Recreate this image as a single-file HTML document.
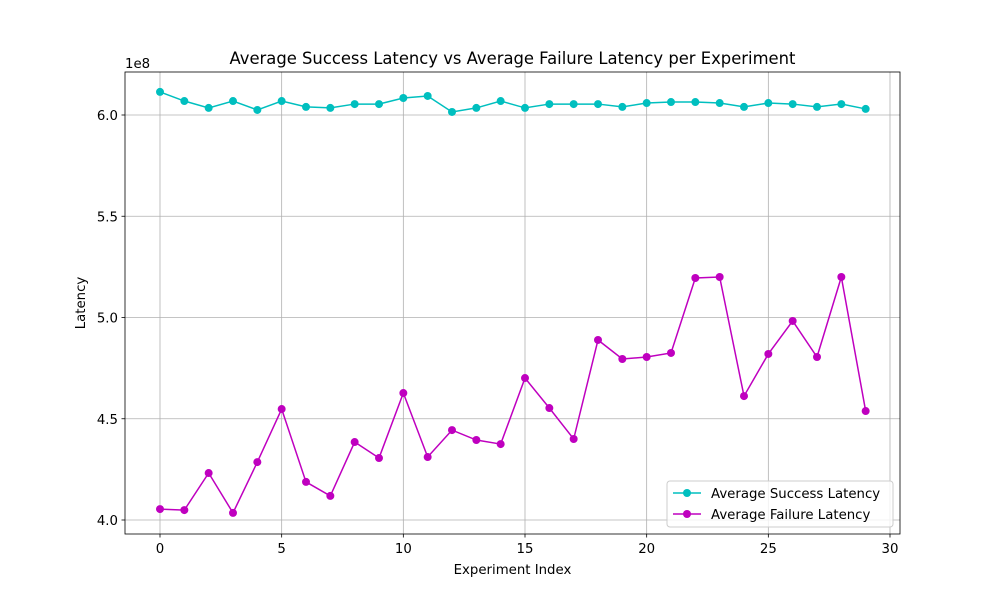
<!DOCTYPE html>
<html><head><meta charset="utf-8"><style>
body{margin:0;background:#fff;}
svg text{font-family:"DejaVu Sans","Liberation Sans",sans-serif;}
</style></head><body>
<svg id="chart" width="1000" height="600" xmlns="http://www.w3.org/2000/svg">
<rect width="1000" height="600" fill="#fff"/>
<g id="grid"></g><g id="axes"></g><g id="series"></g><g id="legend"></g>
</svg>
<script>
const xTicks=[0,5,10,15,20,25,30];
const yTicks=[4.0,4.5,5.0,5.5,6.0];
const yTickLabels=["4.0","4.5","5.0","5.5","6.0"];
const successLatency=[6.114,6.069,6.035,6.069,6.025,6.069,6.04,6.035,6.054,6.054,6.084,6.094,6.015,6.035,6.069,6.035,6.054,6.054,6.054,6.04,6.059,6.064,6.064,6.059,6.04,6.059,6.054,6.04,6.054,6.03];
const failureLatency=[4.054,4.049,4.232,4.035,4.286,4.548,4.188,4.119,4.385,4.306,4.627,4.311,4.444,4.395,4.375,4.701,4.553,4.4,4.889,4.795,4.805,4.825,5.195,5.2,4.612,4.82,4.983,4.805,5.2,4.538];
const NS="http://www.w3.org/2000/svg";
const L=125,R=900,T=72,B=534;
const xs=v=>160+v*(890-160)/30;
const ys=v=>520-(v-4.0)*202.5;
function mk(tag,attrs,parent,text){const e=document.createElementNS(NS,tag);for(const k in attrs)e.setAttribute(k,attrs[k]);if(text!==undefined)e.textContent=text;parent.appendChild(e);return e;}
const grid=document.getElementById('grid'),axes=document.getElementById('axes'),ser=document.getElementById('series'),leg=document.getElementById('legend');
xTicks.forEach(t=>{const x=xs(t);
 const g=mk('line',{x1:x,x2:x,y1:T,y2:B,stroke:'#b0b0b0','stroke-width':0.8},grid);
 
 mk('line',{x1:x,x2:x,y1:B,y2:B+3.5,stroke:'#000','stroke-width':0.8},axes);
 const tl=mk('text',{x:x,y:B+19,'text-anchor':'middle','font-size':13.3},axes,String(t));
 });
yTicks.forEach((t,i)=>{const y=ys(t);
 const g=mk('line',{x1:L,x2:R,y1:y,y2:y,stroke:'#b0b0b0','stroke-width':0.8},grid);
 
 mk('line',{x1:L-3.5,x2:L,y1:y,y2:y,stroke:'#000','stroke-width':0.8},axes);
 const tl=mk('text',{x:L-7,y:y+5,'text-anchor':'end','font-size':13.3},axes,yTickLabels[i]);
 });
const fr=mk('rect',{x:L,y:T,width:R-L,height:B-T,fill:'none',stroke:'#000','stroke-width':0.8},axes);

const off=mk('text',{x:L,y:T-4,'font-size':13.3},axes,'1e8');

const ti=mk('text',{x:512.5,y:64,'text-anchor':'middle','font-size':16.4},axes,'Average Success Latency vs Average Failure Latency per Experiment');

const xt=mk('text',{x:512.5,y:574,'text-anchor':'middle','font-size':13.3},axes,'Experiment Index');

const yt=mk('text',{x:85,y:303,'text-anchor':'middle','font-size':13.3,transform:'rotate(-90 85 303)'},axes,'Latency');

function drawSeries(vals,color,name){
 const pl=mk('polyline',{points:vals.map((v,i)=>xs(i)+','+ys(v)).join(' '),fill:'none',stroke:color,'stroke-width':1.5},ser);
 
 vals.forEach((v,i)=>{const c=mk('circle',{cx:xs(i),cy:ys(v),r:4,fill:color},ser);
  });
}
drawSeries(successLatency,'#00bfbf','success-latency');
drawSeries(failureLatency,'#bf00bf','failure-latency');
const lb=mk('rect',{x:667,y:481,width:226,height:46,rx:3,fill:'#fff','fill-opacity':0.8,stroke:'#ccc'},leg);

[['Average Success Latency','#00bfbf',493],['Average Failure Latency','#bf00bf',514]].forEach(([t,c,y])=>{
 const g=mk('g',{},leg);
 mk('line',{x1:673,x2:701,y1:y,y2:y,stroke:c,'stroke-width':1.5},g);
 mk('circle',{cx:687,cy:y,r:4,fill:c},g);
 mk('text',{x:711,y:y+5,'font-size':13.3},g,t);});
</script>
</body></html>
